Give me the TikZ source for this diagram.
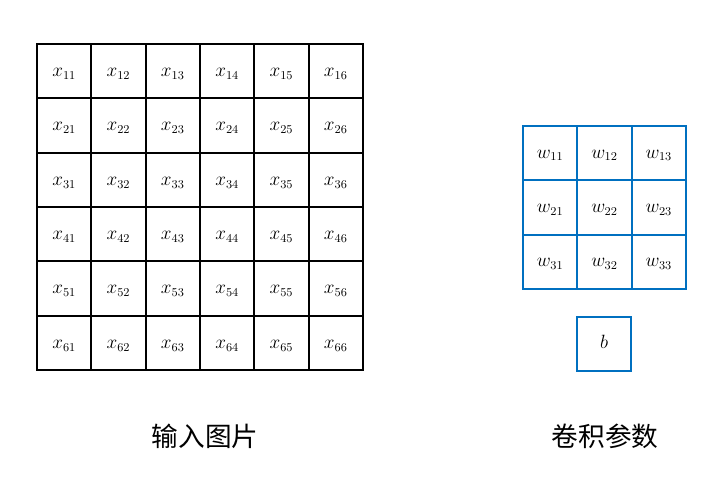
\documentclass[tikz,border=0pt]{standalone}
\usepackage{fontspec}
\newfontfamily\cjk{Noto Sans CJK SC}
\definecolor{wblue}{RGB}{0,112,192}
\tikzset{
	xcell/.style={draw=black,line width=1.5pt,minimum size=40.75pt,inner sep=0pt,text height=1.9ex,text depth=0pt,font=\fontsize{13.5}{16}\selectfont},
	wcell/.style={draw=wblue,line width=1.4pt,minimum size=40.75pt,inner sep=0pt,text height=1.7ex,text depth=0pt,font=\fontsize{13.5}{16}\selectfont},
	title/.style={font=\cjk\fontsize{20}{24}\selectfont,inner sep=0pt}
}
\begin{document}
\begin{tikzpicture}[x=0.75pt,y=-0.75pt]
		\useasboundingbox (0,0) rectangle (713,480);
		%input picture
		\foreach \i in {1,...,6}
		\foreach \j in {1,...,6}
		\node[xcell] (x\i\j) at ({37+54.33*(\j-0.5)},{44+54.33*(\i-0.5)}) {$x_{\i\j}$};
		%weights
		\foreach \i in {1,2,3}
		\foreach \j in {1,2,3}
		\node[wcell] (w\i\j) at ({523+54.33*(\j-0.5)},{126+54.33*(\i-0.5)}) {$w_{\i\j}$};
		\node[wcell] (b) at (604,344) {$b$};
		\node[title] (tin) at (205,436) {输入图片};
		\node[title] (tw) at (605,436) {卷积参数};
\end{tikzpicture}
\end{document}
